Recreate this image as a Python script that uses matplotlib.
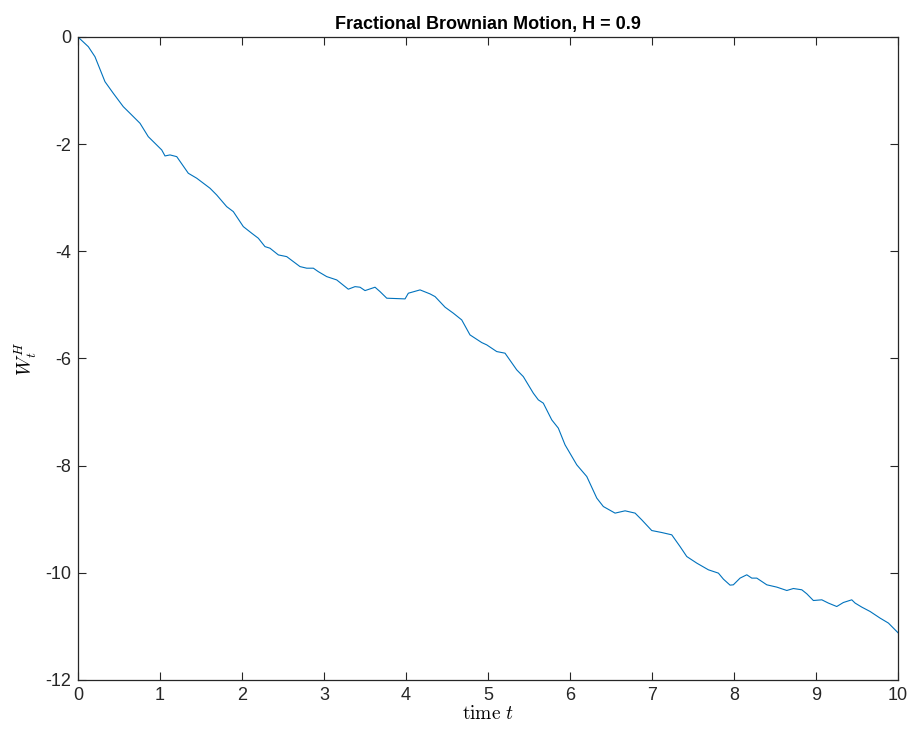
import matplotlib
matplotlib.use("Agg")
import matplotlib.pyplot as plt

plt.rcParams['font.family'] = ['Liberation Sans', 'DejaVu Sans']
plt.rcParams['mathtext.fontset'] = 'cm'
plt.rcParams['axes.unicode_minus'] = False

# sampled path of the fBm realisation (time, value)
t = [0.0, 0.126, 0.207, 0.329, 0.430, 0.552, 0.634, 0.756, 0.857, 1.021,
     1.061, 1.122, 1.204, 1.345, 1.448, 1.610, 1.691, 1.813, 1.894, 2.016,
     2.118, 2.199, 2.280, 2.341, 2.443, 2.545, 2.707, 2.789, 2.870, 2.930,
     3.033, 3.155, 3.296, 3.378, 3.439, 3.500, 3.622, 3.683, 3.765, 3.988,
     4.028, 4.171, 4.293, 4.354, 4.476, 4.577, 4.679, 4.780, 4.923, 4.984,
     5.106, 5.207, 5.350, 5.430, 5.552, 5.613, 5.674, 5.777, 5.857, 5.939,
     6.082, 6.204, 6.326, 6.406, 6.549, 6.671, 6.793, 6.874, 6.996, 7.118,
     7.240, 7.341, 7.423, 7.545, 7.687, 7.809, 7.870, 7.951, 7.991, 8.073,
     8.155, 8.216, 8.277, 8.399, 8.521, 8.643, 8.723, 8.826, 8.887, 8.967,
     9.070, 9.150, 9.252, 9.333, 9.435, 9.476, 9.557, 9.659, 9.780, 9.882,
     10.0]
W = [0.0, -0.181, -0.368, -0.834, -1.050, -1.300, -1.424, -1.610, -1.860, -2.108,
     -2.220, -2.201, -2.233, -2.543, -2.636, -2.823, -2.948, -3.166, -3.259, -3.539,
     -3.662, -3.756, -3.912, -3.942, -4.067, -4.099, -4.285, -4.315, -4.315, -4.379,
     -4.472, -4.534, -4.707, -4.659, -4.670, -4.733, -4.670, -4.752, -4.875, -4.888,
     -4.782, -4.720, -4.795, -4.845, -5.043, -5.155, -5.280, -5.560, -5.703, -5.746,
     -5.871, -5.901, -6.213, -6.338, -6.647, -6.772, -6.834, -7.146, -7.300, -7.612,
     -7.985, -8.203, -8.606, -8.763, -8.886, -8.843, -8.886, -9.011, -9.211, -9.248,
     -9.291, -9.509, -9.696, -9.819, -9.944, -10.006, -10.118, -10.230, -10.224, -10.099,
     -10.037, -10.099, -10.099, -10.224, -10.267, -10.330, -10.293, -10.317, -10.392, -10.517,
     -10.504, -10.565, -10.629, -10.554, -10.504, -10.565, -10.640, -10.722, -10.845, -10.938,
     -11.12]

xticks = list(range(0, 11))
yticks = [0, -2, -4, -6, -8, -10, -12]

fig = plt.figure(figsize=(9.09, 7.31), dpi=100)
ax = fig.add_axes([0.0858, 0.0698, 0.9022, 0.8796])
ax.plot(t, W, color='#0072BD', lw=0.8)

ax.set_xlim(0, 10)
ax.set_ylim(-12, 0)
ax.set_xticks(xticks)
ax.set_yticks(yticks)
ax.tick_params(direction='in', length=6, width=0.8, top=True, right=True,
               labelsize=13, colors='#262626', pad=5)
for s in ax.spines.values():
    s.set_color('#262626')
    s.set_linewidth(0.9)

ax.set_title('Fractional Brownian Motion, H = 0.9', fontsize=13,
             fontweight='bold', pad=6)
ax.set_xlabel(r'$\mathrm{time}\ t$', fontsize=14, labelpad=1)
ax.set_ylabel(r'$W_t^H$', fontsize=14, labelpad=4)

fig.savefig('out.png', dpi=100)
